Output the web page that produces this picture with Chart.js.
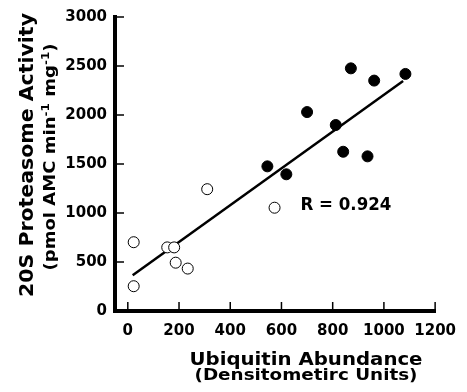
<!DOCTYPE html>
<html>
<head>
<meta charset="utf-8">
<title>20S Proteasome Activity vs Ubiquitin Abundance</title>
<script src="https://cdn.jsdelivr.net/npm/chart.js@4/dist/chart.umd.min.js"></script>
<style>
  html, body { margin: 0; padding: 0; background: #fff; }
  #wrap { width: 467px; height: 392px; }
</style>
</head>
<body>
<div id="wrap"><canvas id="chart" width="467" height="392"></canvas></div>
<script>
/* ==========================
   DATA
========================== */
const openX = [23, 23, 154, 181, 187, 234, 310, 573];
const openY = [702, 253, 649, 649, 493, 433, 1243, 1054];

const filledX = [545, 619, 700, 812, 841, 936, 871, 962, 1084];
const filledY = [1476, 1395, 2030, 1898, 1625, 1578, 2476, 2351, 2419];

const fitX = [19, 1075];
const fitY = [365, 2348];

const xTicks = [0, 200, 400, 600, 800, 1000, 1200];
const yTicks = [0, 500, 1000, 1500, 2000, 2500, 3000];

const rText = "R = 0.924";

const FONT = "'DejaVu Sans', sans-serif";

function toPoints(xs, ys) {
    return xs.map((x, i) => ({ x: x, y: ys[i] }));
}

/* ==========================
   TEXT HELPERS
========================== */
// draws a list of segments [{t, size, sup}] centred at (0,0) on the baseline,
// stretched horizontally to the target width
function drawRun(ctx, parts, targetW) {
    let total = 0;
    parts.forEach(p => {
        ctx.font = `bold ${p.size}px ${FONT}`;
        p.w = ctx.measureText(p.t).width;
        total += p.w;
    });
    const sx = targetW / total;
    ctx.save();
    ctx.scale(sx, 1);
    let x = -total / 2;
    ctx.textAlign = "left";
    ctx.textBaseline = "alphabetic";
    parts.forEach(p => {
        ctx.font = `bold ${p.size}px ${FONT}`;
        ctx.fillText(p.t, x, p.sup ? -p.sup : 0);
        x += p.w;
    });
    ctx.restore();
}

/* ==========================
   PLUGINS
========================== */
const innerTicks = {
    id: "innerTicks",
    afterDraw(chart) {
        const ctx = chart.ctx;
        const xs = chart.scales.x;
        const ys = chart.scales.y;
        const area = chart.chartArea;
        ctx.save();
        ctx.strokeStyle = "#000";
        ctx.lineWidth = 1.5;
        xs.ticks.forEach(t => {
            const px = xs.getPixelForValue(t.value);
            ctx.beginPath();
            ctx.moveTo(px, area.bottom);
            ctx.lineTo(px, area.bottom - 9);
            ctx.stroke();
        });
        ys.ticks.forEach(t => {
            const py = ys.getPixelForValue(t.value);
            ctx.beginPath();
            ctx.moveTo(area.left, py);
            ctx.lineTo(area.left + 9, py);
            ctx.stroke();
        });
        ctx.restore();
    }
};

const titles = {
    id: "titles",
    afterDraw(chart) {
        const ctx = chart.ctx;
        const xs = chart.scales.x;
        const ys = chart.scales.y;
        ctx.save();
        ctx.fillStyle = "#000";

        // y axis title, two lines, rotated
        ctx.save();
        ctx.translate(33, 155);
        ctx.rotate(-Math.PI / 2);
        drawRun(ctx, [{ t: "20S Proteasome Activity", size: 19 }], 284);
        ctx.restore();

        ctx.save();
        ctx.translate(55, 157);
        ctx.rotate(-Math.PI / 2);
        drawRun(ctx, [
            { t: "(pmol AMC min", size: 15 },
            { t: "-1", size: 10, sup: 6 },
            { t: " mg", size: 15 },
            { t: "-1", size: 10, sup: 6 },
            { t: ")", size: 15 }
        ], 227);
        ctx.restore();

        // x axis title
        ctx.save();
        ctx.translate(306, 365);
        drawRun(ctx, [{ t: "Ubiquitin Abundance", size: 17 }], 233);
        ctx.restore();

        ctx.save();
        ctx.translate(306, 380);
        drawRun(ctx, [{ t: "(Densitometirc Units)", size: 15 }], 223);
        ctx.restore();

        // correlation label
        ctx.save();
        const rx = xs.getPixelForValue(674);
        const ry = ys.getPixelForValue(1034);
        ctx.translate(rx + 45.5, ry);
        drawRun(ctx, [{ t: rText, size: 17 }], 91);
        ctx.restore();

        ctx.restore();
    }
};

/* ==========================
   CHART
========================== */
new Chart(document.getElementById("chart"), {
    type: "scatter",
    data: {
        datasets: [
            {
                label: "open",
                data: toPoints(openX, openY),
                backgroundColor: "#fff",
                borderColor: "#000",
                borderWidth: 1,
                pointRadius: 5.5,
                order: 1
            },
            {
                label: "filled",
                data: toPoints(filledX, filledY),
                backgroundColor: "#000",
                borderColor: "#000",
                borderWidth: 1,
                pointRadius: 5.5,
                order: 2
            },
            {
                label: "fit",
                type: "line",
                data: toPoints(fitX, fitY),
                borderColor: "#000",
                borderWidth: 2.5,
                pointRadius: 0,
                fill: false,
                order: 3
            }
        ]
    },
    options: {
        responsive: false,
        devicePixelRatio: 1,
        animation: false,
        layout: { padding: { top: 15, right: 23, left: 0, bottom: 0 } },
        plugins: {
            legend: { display: false },
            tooltip: { enabled: false }
        },
        scales: {
            x: {
                type: "linear",
                min: -50,
                max: 1200,
                afterBuildTicks: scale => { scale.ticks = xTicks.map(v => ({ value: v })); },
                afterFit: scale => { scale.height = 81; },
                grid: { display: false, drawTicks: false },
                border: { display: true, color: "#000", width: 4 },
                ticks: {
                    color: "#000",
                    padding: 11,
                    maxRotation: 0,
                    autoSkip: false,
                    callback: v => String(v),
                    font: { family: FONT, size: 15, weight: "bold" }
                }
            },
            y: {
                type: "linear",
                min: 0,
                max: 3000,
                afterBuildTicks: scale => { scale.ticks = yTicks.map(v => ({ value: v })); },
                afterFit: scale => { scale.width = 115; },
                grid: { display: false, drawTicks: false },
                border: { display: true, color: "#000", width: 4 },
                ticks: {
                    color: "#000",
                    padding: 8,
                    autoSkip: false,
                    callback: v => String(v),
                    font: { family: FONT, size: 15, weight: "bold" }
                }
            }
        }
    },
    plugins: [innerTicks, titles]
});
</script>
</body>
</html>
